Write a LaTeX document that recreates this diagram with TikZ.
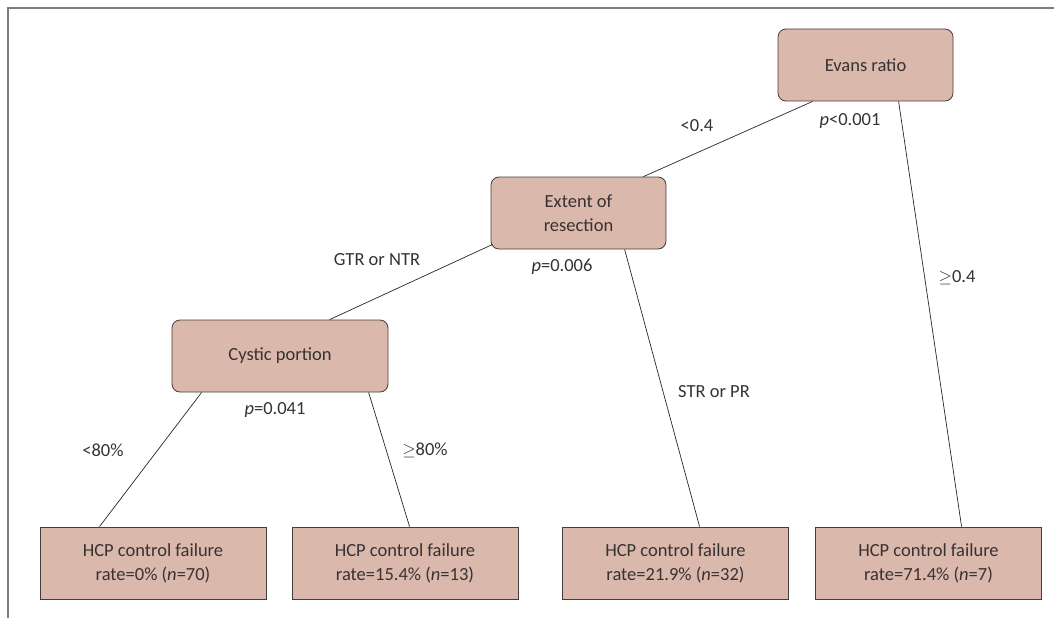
\documentclass[tikz,border=0pt]{standalone}
\usepackage{fontspec}
\setmainfont{Carlito}
\usetikzlibrary{calc}
\definecolor{boxfill}{RGB}{219,184,172}
\definecolor{boxline}{RGB}{70,60,58}
\definecolor{txt}{RGB}{55,50,50}
\definecolor{frame}{RGB}{125,125,125}
\begin{document}
\begin{tikzpicture}[x=1pt,y=-1pt,
  every node/.style={font=\fontsize{18.5}{24}\selectfont, text=txt},
  split/.style={draw=boxline, fill=boxfill, rounded corners=8pt, line width=0.8pt, align=center, minimum height=72pt, inner sep=0pt},
  leaf/.style={draw=boxline, fill=boxfill, line width=0.9pt, align=center, minimum width=226pt, minimum height=72pt, inner sep=0pt},
  edge/.style={draw=black!85, line width=0.7pt},
  lab/.style={inner sep=0pt}]
\useasboundingbox (0,0) rectangle (1054,618);
\draw[frame, line width=1.4pt] (8,618) -- (8,8) -- (1054,8);
% split nodes
\node[split, minimum width=175pt] (evans) at (865.5,65) {Evans ratio};
\node[split, minimum width=175pt] (extent) at (578.5,213) {Extent of\\resection};
\node[split, minimum width=216pt] (cystic) at (280,356) {Cystic portion};
% leaves
\node[leaf] (l1) at (153,563) {HCP control failure\\rate=0\% (\textit{n}=70)};
\node[leaf] (l2) at (405,563) {HCP control failure\\rate=15.4\% (\textit{n}=13)};
\node[leaf] (l3) at (675.5,563) {HCP control failure\\rate=21.9\% (\textit{n}=32)};
\node[leaf] (l4) at (928.5,563) {HCP control failure\\rate=71.4\% (\textit{n}=7)};
% connectors
\draw[edge] ($(evans.south west)+(35,0)$) -- ($(extent.north east)+(-23,0)$);
\draw[edge] ($(evans.south west)+(121,0)$) -- ($(l4.north west)+(146.5,0)$);
\draw[edge] ($(extent.south west)+(2,-5)$) -- ($(cystic.north west)+(158,0)$);
\draw[edge] ($(extent.south west)+(134,0)$) -- ($(l3.north west)+(137.5,0)$);
\draw[edge] ($(cystic.south west)+(30,0)$) -- ($(l1.north west)+(60,0)$);
\draw[edge] ($(cystic.south west)+(197,0)$) -- ($(l2.north west)+(118,0)$);
% labels
\node[lab] (t1) at (697,126) {<0.4};
\node[lab] (p1) at (850,121) {\textit{p}<0.001};
\node[lab] (t2) at (957,278) {$\geq$0.4};
\node[lab] (p2) at (562,267) {\textit{p}=0.006};
\node[lab] (t3) at (377,260) {GTR or NTR};
\node[lab] (t4) at (714,392) {STR or PR};
\node[lab] (p3) at (275,410) {\textit{p}=0.041};
\node[lab] (t5) at (103,450) {<80\%};
\node[lab] (t6) at (425,450) {$\geq$80\%};
\end{tikzpicture}
\end{document}
